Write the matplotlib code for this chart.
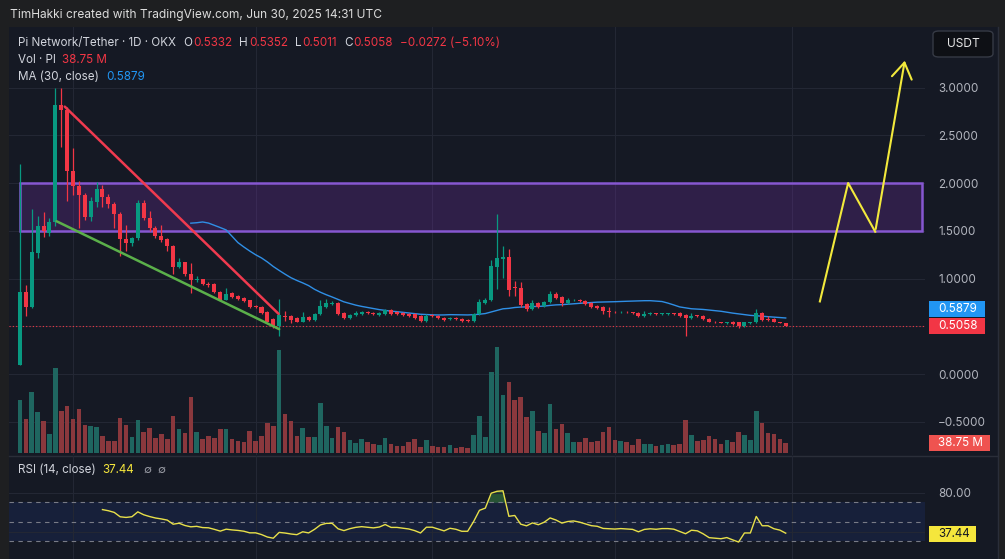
import numpy as np
import pandas as pd
import matplotlib
matplotlib.use("Agg")
import matplotlib.pyplot as plt
from matplotlib.patches import Rectangle, FancyBboxPatch

plt.rcParams["font.family"] = ["Inter", "DejaVu Sans"]

# daily candles, PI/USDT on OKX, Feb 20 -> Jun 30 2025
opens = [0.09, 0.86, 0.70, 1.27, 1.55, 1.48, 1.59, 2.82, 2.76, 2.13,
         1.97, 1.87, 1.64, 1.80, 1.94, 1.85, 1.78, 1.68, 1.41, 1.37,
         1.42, 1.79, 1.63, 1.53, 1.45, 1.41, 1.34, 1.12, 1.17, 1.05,
         0.98, 0.99, 0.94, 0.94, 0.86, 0.78, 0.85, 0.82, 0.80, 0.77,
         0.71, 0.70, 0.65, 0.58, 0.505, 0.61, 0.61, 0.59, 0.55, 0.60,
         0.57, 0.63, 0.70, 0.73, 0.74, 0.64, 0.59, 0.62, 0.63, 0.65,
         0.64, 0.62, 0.63, 0.67, 0.65, 0.64, 0.63, 0.63, 0.61, 0.56,
         0.62, 0.61, 0.59, 0.58, 0.59, 0.58, 0.57, 0.56, 0.63, 0.74,
         0.77, 1.12, 1.20, 1.23, 0.91, 0.90, 0.73, 0.68, 0.74, 0.71,
         0.75, 0.84, 0.81, 0.74, 0.77, 0.78, 0.76, 0.74, 0.71, 0.70,
         0.655, 0.65, 0.645, 0.65, 0.645, 0.64, 0.61, 0.63, 0.635, 0.63,
         0.63, 0.635, 0.64, 0.62, 0.59, 0.61, 0.61, 0.58, 0.545, 0.54,
         0.53, 0.55, 0.54, 0.50, 0.53, 0.54, 0.64, 0.58, 0.58, 0.545, 0.5332]
highs = [2.20, 0.93, 1.73, 1.65, 1.70, 1.63, 3.00, 3.00, 2.80, 2.37,
         2.02, 1.90, 1.85, 2.01, 1.98, 1.88, 1.80, 1.70, 1.56, 1.44,
         1.82, 1.82, 1.71, 1.55, 1.56, 1.42, 1.35, 1.22, 1.17, 1.16,
         1.03, 1.00, 0.96, 0.95, 0.87, 0.90, 0.86, 0.83, 0.81, 0.78,
         0.72, 0.71, 0.66, 0.59, 0.79, 0.66, 0.62, 0.60, 0.65, 0.61,
         0.64, 0.78, 0.79, 0.76, 0.75, 0.65, 0.63, 0.66, 0.66, 0.66,
         0.65, 0.65, 0.68, 0.68, 0.66, 0.65, 0.64, 0.64, 0.62, 0.63,
         0.63, 0.62, 0.60, 0.60, 0.60, 0.59, 0.58, 0.64, 0.79, 0.80,
         1.19, 1.68, 1.34, 1.31, 0.97, 0.96, 0.74, 0.78, 0.75, 0.76,
         0.87, 0.86, 0.82, 0.80, 0.79, 0.79, 0.77, 0.75, 0.72, 0.71,
         0.70, 0.66, 0.66, 0.66, 0.65, 0.65, 0.66, 0.65, 0.64, 0.64,
         0.64, 0.64, 0.65, 0.63, 0.64, 0.62, 0.62, 0.59, 0.56, 0.55,
         0.55, 0.56, 0.55, 0.55, 0.55, 0.68, 0.65, 0.61, 0.59, 0.55, 0.5352]
lows = [0.09, 0.61, 0.69, 1.21, 1.43, 1.45, 1.55, 2.38, 1.81, 1.87,
        1.53, 1.61, 1.60, 1.75, 1.75, 1.74, 1.53, 1.24, 1.29, 1.34,
        1.40, 1.61, 1.50, 1.42, 1.38, 1.29, 1.05, 1.11, 1.03, 0.85,
        0.96, 0.93, 0.91, 0.85, 0.77, 0.77, 0.80, 0.78, 0.75, 0.69,
        0.69, 0.63, 0.54, 0.48, 0.40, 0.56, 0.53, 0.54, 0.54, 0.56,
        0.56, 0.62, 0.69, 0.72, 0.62, 0.58, 0.58, 0.61, 0.62, 0.63,
        0.62, 0.61, 0.62, 0.62, 0.62, 0.61, 0.60, 0.58, 0.54, 0.55,
        0.60, 0.58, 0.56, 0.57, 0.57, 0.55, 0.55, 0.55, 0.62, 0.73,
        0.76, 0.89, 1.01, 0.82, 0.82, 0.70, 0.66, 0.67, 0.69, 0.70,
        0.74, 0.79, 0.71, 0.73, 0.76, 0.75, 0.72, 0.69, 0.68, 0.63,
        0.60, 0.64, 0.64, 0.64, 0.63, 0.60, 0.60, 0.62, 0.62, 0.62,
        0.62, 0.62, 0.60, 0.40, 0.58, 0.60, 0.57, 0.54, 0.53, 0.53,
        0.52, 0.51, 0.48, 0.49, 0.52, 0.53, 0.56, 0.56, 0.54, 0.53, 0.5011]
closes = [0.86, 0.70, 1.28, 1.55, 1.50, 1.59, 2.82, 2.76, 2.13, 1.97,
          1.87, 1.64, 1.81, 1.94, 1.85, 1.78, 1.68, 1.41, 1.37, 1.42,
          1.79, 1.63, 1.53, 1.45, 1.40, 1.34, 1.12, 1.17, 1.05, 0.98,
          1.00, 0.94, 0.93, 0.86, 0.78, 0.84, 0.81, 0.79, 0.76, 0.70,
          0.70, 0.64, 0.55, 0.505, 0.62, 0.60, 0.57, 0.55, 0.60, 0.57,
          0.63, 0.71, 0.74, 0.74, 0.63, 0.59, 0.62, 0.64, 0.65, 0.64,
          0.63, 0.64, 0.67, 0.63, 0.63, 0.62, 0.61, 0.59, 0.56, 0.61,
          0.61, 0.59, 0.57, 0.59, 0.58, 0.56, 0.56, 0.63, 0.75, 0.78,
          1.13, 1.21, 1.23, 0.88, 0.90, 0.72, 0.68, 0.74, 0.70, 0.75,
          0.84, 0.80, 0.74, 0.77, 0.78, 0.76, 0.73, 0.70, 0.69, 0.655,
          0.65, 0.645, 0.65, 0.645, 0.64, 0.61, 0.63, 0.635, 0.63, 0.635,
          0.635, 0.63, 0.61, 0.59, 0.61, 0.605, 0.58, 0.545, 0.54, 0.535,
          0.54, 0.52, 0.50, 0.54, 0.54, 0.64, 0.57, 0.57, 0.545, 0.5332, 0.5058]
# volume in millions of PI
volumes = [205, 132, 236, 159, 124, 74, 329, 163, 182, 132,
           171, 109, 105, 101, 66, 47, 47, 136, 109, 62,
           128, 81, 97, 58, 74, 54, 143, 93, 78, 217,
           81, 54, 66, 58, 93, 93, 54, 47, 43, 85,
           47, 66, 116, 105, 399, 151, 124, 66, 97, 62,
           62, 194, 105, 58, 101, 81, 50, 39, 54, 43,
           35, 31, 58, 35, 27, 27, 43, 54, 23, 50,
           27, 23, 23, 31, 19, 23, 19, 70, 143, 62,
           314, 411, 225, 275, 205, 217, 140, 163, 85, 78,
           190, 93, 112, 78, 43, 43, 58, 43, 47, 81,
           101, 50, 47, 43, 31, 54, 35, 35, 27, 31,
           35, 31, 35, 128, 70, 47, 50, 66, 54, 35,
           50, 43, 81, 70, 50, 163, 116, 78, 74, 54, 38.75]

month_starts = [9, 40, 70, 101, 131]      # Mar 1, Apr 1, May 1, Jun 1, Jul 1
price_ticks = [-0.5, 0.0, 0.5, 1.0, 1.5, 2.0, 2.5, 3.0]
price_labels = ["−0.5000", "0.0000", "", "1.0000", "1.5000", "2.0000", "2.5000", "3.0000"]
rsi_ticks = [40, 80]
rsi_labels = ["", "80.00"]

# user drawings (bar index, price)
zone_x = [0.0, 153.2]
zone_y = [1.5, 2.0]
red_line_x = [7.6, 43.9]
red_line_y = [2.80, 0.63]
green_line_x = [6.2, 44.0]
green_line_y = [1.60, 0.47]
path_x = [135.8, 140.6, 145.2, 150.3]
path_y = [0.76, 2.00, 1.49, 3.31]

W, H = 1005, 559
BG = "#151924"
GRID = "#232734"
UP, DOWN = "#089981", "#f23645"
TXT = "#b2b5be"

o = np.array(opens); h = np.array(highs); l = np.array(lows); c = np.array(closes)
v = np.array(volumes)
idx = np.arange(len(c))
up = c >= o
cols = np.where(up, UP, DOWN)

ma = pd.Series(c).rolling(30).mean().to_numpy()

# Wilder RSI(14)
delta = np.diff(c, prepend=np.nan)
gain = np.clip(delta, 0, None)
loss = np.clip(-delta, 0, None)
rsi = np.full(len(c), np.nan)
ag, al = gain[1:15].mean(), loss[1:15].mean()
rsi[14] = 100 - 100 / (1 + ag / al)
for i in range(15, len(c)):
    ag = (ag * 13 + gain[i]) / 14
    al = (al * 13 + loss[i]) / 14
    rsi[i] = 100 - 100 / (1 + ag / al)

fig = plt.figure(figsize=(W / 100, H / 100), dpi=100, facecolor="#1e1f21")
fig.patches.append(Rectangle((9 / W, 0), (998 - 9) / W, (559 - 27) / H,
                             transform=fig.transFigure, fc=BG, ec="none", zorder=-5))

XL = (-1.87, 153.65)
rect = [9 / W, (559 - 455) / H, (925 - 9) / W, (455 - 27) / H]
axg = fig.add_axes(rect)          # grid + price scale
axv = fig.add_axes(rect)          # volume overlay
ax = fig.add_axes(rect)           # candles + drawings
for a in (axg, axv, ax):
    a.set_xlim(*XL)
    a.patch.set_visible(False)
    for s in a.spines.values():
        s.set_visible(False)
axg.set_zorder(1); axv.set_zorder(2); ax.set_zorder(3)
ylo, yhi = -0.848, 3.634
axg.set_ylim(ylo, yhi); ax.set_ylim(ylo, yhi)
axv.set_ylim(-7.75, 1650.75)

axg.set_xticks(month_starts)
axg.set_yticks(price_ticks)
axg.set_yticklabels(price_labels)
axg.yaxis.tick_right()
axg.tick_params(axis="y", length=0, pad=9.5, labelsize=8.4, labelcolor=TXT)
axg.tick_params(axis="x", length=0, labelbottom=False)
axg.grid(True, color=GRID, lw=0.8)
for a in (axv, ax):
    a.set_xticks([]); a.set_yticks([])

axv.bar(idx, v, width=0.78, color=np.where(up, "#1f6660", "#8a383d"), linewidth=0)

ax.add_patch(Rectangle((zone_x[0], zone_y[0]), zone_x[1] - zone_x[0], zone_y[1] - zone_y[0],
                       fc="#7d31b4", alpha=0.25, ec="none", zorder=1))
ax.add_patch(Rectangle((zone_x[0], zone_y[0]), zone_x[1] - zone_x[0], zone_y[1] - zone_y[0],
                       fc="none", ec="#8657d0", lw=1.8, zorder=1))
ax.axhline(c[-1], color=DOWN, lw=0.8, ls=(0, (1, 2)), zorder=1)
ax.plot(idx, ma, color="#2f8fe6", lw=1.0, zorder=2)
ax.vlines(idx, l, h, colors=cols, lw=0.9, zorder=3)
ax.bar(idx, np.maximum(np.abs(c - o), 0.008), bottom=np.minimum(o, c), width=0.68,
       color=cols, linewidth=0, zorder=4)
ax.plot(red_line_x, red_line_y, color="#f03a4f", lw=1.8, zorder=5, solid_capstyle="round")
ax.plot(green_line_x, green_line_y, color="#5bb04a", lw=1.8, zorder=5, solid_capstyle="round")
ax.plot(path_x[:-1], path_y[:-1], color="#f2e93c", lw=1.5, zorder=5)
ax.annotate("", xy=(path_x[-1], path_y[-1]), xytext=(path_x[-2], path_y[-2]),
            arrowprops=dict(arrowstyle="->,head_length=0.7,head_width=0.45",
                            color="#f2e93c", lw=1.5, mutation_scale=16), zorder=5)

# RSI pane
axr = fig.add_axes([9 / W, 0, (925 - 9) / W, (559 - 456) / H])
axr.set_zorder(2)
axr.set_xlim(*XL)
axr.set_ylim(11.85, 117.5)
axr.patch.set_visible(False)
for s in axr.spines.values():
    s.set_visible(False)
axr.set_xticks(month_starts)
axr.set_yticks(rsi_ticks)
axr.set_yticklabels(rsi_labels)
axr.yaxis.tick_right()
axr.tick_params(axis="y", length=0, pad=9.5, labelsize=8.4, labelcolor=TXT)
axr.tick_params(axis="x", length=0, labelbottom=False)
axr.grid(True, color=GRID, lw=0.8)
axr.axhspan(30, 70, color="#2962ff", alpha=0.10, lw=0)
for lvl in (70, 50, 30):
    axr.axhline(lvl, color="#787b86", lw=0.8, ls=(0, (4, 4)))
axr.fill_between(idx, 70, rsi, where=rsi > 70, interpolate=True, color="#3f9a4a", alpha=0.45, lw=0)
axr.plot(idx, rsi, color="#e8e04a", lw=1.0)

# separators
fig.add_artist(plt.Line2D([9 / W, 998 / W], [1 - 456 / H] * 2, color="#2a2e39", lw=1.0))
fig.add_artist(plt.Line2D([998 / W] * 2, [0, 1 - 27 / H], color="#2a2e39", lw=1.0))


def to_fig_y(a, val):
    return a.transData.transform((0, val))[1] / H


def tag(yc, label, fc, tc, x0=929, w=56, hgt=16):
    fig.patches.append(Rectangle((x0 / W, yc - hgt / 2 / H), w / W, hgt / H,
                                 transform=fig.transFigure, fc=fc, ec="none", zorder=5))
    fig.text(938 / W, yc, label, color=tc, fontsize=8.4, va="center", ha="left", zorder=6)


# price-scale tags; the MA tag is pushed up so it doesn't sit on the close tag
close_y = to_fig_y(ax, c[-1])
ma_y = max(to_fig_y(ax, ma[-1]), close_y + 17 / H)
tag(ma_y, "0.5879", "#2196f3", "white")
tag(close_y, f"{c[-1]:.4f}", "#f23645", "white")
tag(to_fig_y(axv, v[-1]), "38.75 M", "#ef5350", "white", w=61)
tag(to_fig_y(axr, 37.44), "37.44", "#f5e63c", "#131722", w=47)

fig.patches.append(FancyBboxPatch((933 / W, 1 - 57 / H), 60 / W, 26 / H,
                                  boxstyle="round,pad=0,rounding_size=0.006",
                                  transform=fig.transFigure, fc="#0e1015", ec="#363a45", lw=1))
fig.text(963 / W, 1 - 44 / H, "USDT", color="#e6e6e6", fontsize=8.6, ha="center", va="center")

renderer = fig.canvas.get_renderer()


def seq_text(x, y, parts, size=8.4):
    for s, col, gap in parts:
        t = fig.text(x / W, 1 - y / H, s, color=col, fontsize=size, va="center", ha="left")
        x += t.get_window_extent(renderer=renderer).width + gap


LBL = "#d1d4dc"
fig.text(10 / W, 1 - 15 / H, "TimHakki created with TradingView.com, Jun 30, 2025 14:31 UTC",
         color="#dcdcdc", fontsize=8.6, va="center", ha="left")
seq_text(18, 43, [("Pi Network/Tether · 1D · OKX", LBL, 7),
                  ("O", LBL, 1), ("0.5332", DOWN, 7),
                  ("H", LBL, 1), ("0.5352", DOWN, 7),
                  ("L", LBL, 1), ("0.5011", DOWN, 7),
                  ("C", LBL, 1), ("0.5058", DOWN, 7),
                  ("−0.0272 (−5.10%)", DOWN, 0)])
seq_text(18, 60, [("Vol · PI", LBL, 6), ("38.75 M", DOWN, 0)])
seq_text(18, 77, [("MA (30, close)", LBL, 7), ("0.5879", "#2196f3", 0)])
seq_text(18, 470, [("RSI (14, close)", LBL, 7), ("37.44", "#f5e63c", 9),
                   ("∅", "#9598a1", 6), ("∅", "#9598a1", 0)])

fig.savefig("out.png", dpi=100, facecolor=fig.get_facecolor())
